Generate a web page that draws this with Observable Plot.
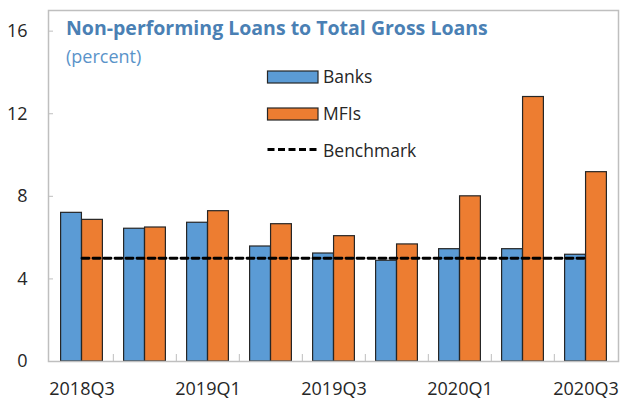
<!DOCTYPE html>
<html><head><meta charset="utf-8">
<script src="https://cdn.jsdelivr.net/npm/d3@7"></script>
<script src="https://cdn.jsdelivr.net/npm/@observablehq/plot@0.6"></script>
<style>
body{margin:0;background:#fff;}
#chart{position:relative;width:622px;height:400px;font-family:"Open Sans",sans-serif;}
#chart svg.legend{position:absolute;left:0;top:0;pointer-events:none;}
</style>
</head><body><div id="chart"></div>
<script>
const quarters = ["2018Q3","2018Q4","2019Q1","2019Q2","2019Q3","2019Q4","2020Q1","2020Q2","2020Q3"];
const tickLabels = ["2018Q3","2019Q1","2019Q3","2020Q1","2020Q3"];
const banks = [7.2, 6.43, 6.72, 5.57, 5.23, 4.88, 5.44, 5.44, 5.17];
const mfis = [6.86, 6.49, 7.28, 6.65, 6.07, 5.67, 8.0, 12.81, 9.17];
const benchmark = [5, 5, 5, 5, 5, 5, 5, 5, 5];
const yTicks = [0, 4, 8, 12, 16];
const seriesNames = ["Banks", "MFIs", "Benchmark"];
const seriesColors = ["#5b9bd5", "#ed7d31", "#000000"];
const title = "Non-performing Loans to Total Gross Loans";
const subtitle = "(percent)";

const W = 622, H = 400, mL = 48, mR = 4, mT = 10, mB = 39;
const innerW = W - mL - mR, innerH = H - mT - mB;
const bw = innerW / quarters.length;
const gridColor = "#bfbfbf";
const inOuter = 10.6, inMid = bw / 2 - 0.1;

const chart = Plot.plot({
  width: W, height: H,
  marginLeft: mL, marginRight: mR, marginTop: mT, marginBottom: mB,
  style: {fontFamily: '"Open Sans", sans-serif', color: "#262626", background: "#fff"},
  x: {domain: quarters, padding: 0},
  y: {domain: [0, 17]},
  marks: [
    Plot.barY(banks, {x: quarters, y: banks, fill: seriesColors[0], stroke: "#262626", strokeWidth: 1.2, insetLeft: inOuter, insetRight: inMid}),
    Plot.barY(mfis, {x: quarters, y: mfis, fill: seriesColors[1], stroke: "#262626", strokeWidth: 1.2, insetLeft: inMid, insetRight: inOuter}),
    Plot.lineY(benchmark, {x: quarters, y: benchmark, stroke: seriesColors[2], strokeWidth: 2.8, strokeDasharray: "7,4"}),
    Plot.frame({stroke: gridColor, strokeWidth: 1.5}),
    Plot.tickY(yTicks, {y: d => d, stroke: gridColor, strokeWidth: 1, insetRight: innerW - 5}),
    Plot.tickX(quarters.slice(1), {x: d => d, dx: -bw / 2, stroke: gridColor, strokeWidth: 1, insetTop: innerH - 7}),
    Plot.axisY(yTicks, {tickSize: 0, tickPadding: 21, fontSize: 18, fill: "#262626"}),
    Plot.axisX(tickLabels, {tickSize: 0, tickPadding: 21, fontSize: 18, fill: "#262626"}),
    Plot.text([title], {frameAnchor: "top-left", dx: 17.5, dy: 10.7, lineAnchor: "top", textAnchor: "start", fontSize: 19.5, fontWeight: "bold", fill: "#4a80b4"}),
    Plot.text([subtitle], {frameAnchor: "top-left", dx: 17.5, dy: 39.8, lineAnchor: "top", textAnchor: "start", fontSize: 18, fill: "#5a93c9"})
  ]
});

const root = document.getElementById("chart");
root.appendChild(chart);

// legend overlay
const leg = d3.select(root).append("svg").attr("class", "legend").attr("width", W).attr("height", H);
const legX = 267.5, legW = 50.5, legTextX = 323;
const legY = [77, 114, 150.5];
seriesNames.forEach((name, i) => {
  const g = leg.append("g");
  if (i < 2) {
    g.append("rect").attr("x", legX).attr("y", legY[i] - 6).attr("width", legW).attr("height", 12)
      .attr("fill", seriesColors[i]).attr("stroke", "#262626").attr("stroke-width", 1.2);
  } else {
    g.append("line").attr("x1", legX).attr("x2", legX + legW).attr("y1", legY[i] - 1).attr("y2", legY[i] - 1)
      .attr("stroke", seriesColors[i]).attr("stroke-width", 2.8).attr("stroke-dasharray", "7,3.5");
  }
  g.append("text").attr("x", legTextX).attr("y", legY[i]).attr("dy", "0.35em")
    .attr("font-family", '"Open Sans", sans-serif').attr("font-size", 17.5).attr("fill", "#262626").text(name);
});
</script>
</body></html>
